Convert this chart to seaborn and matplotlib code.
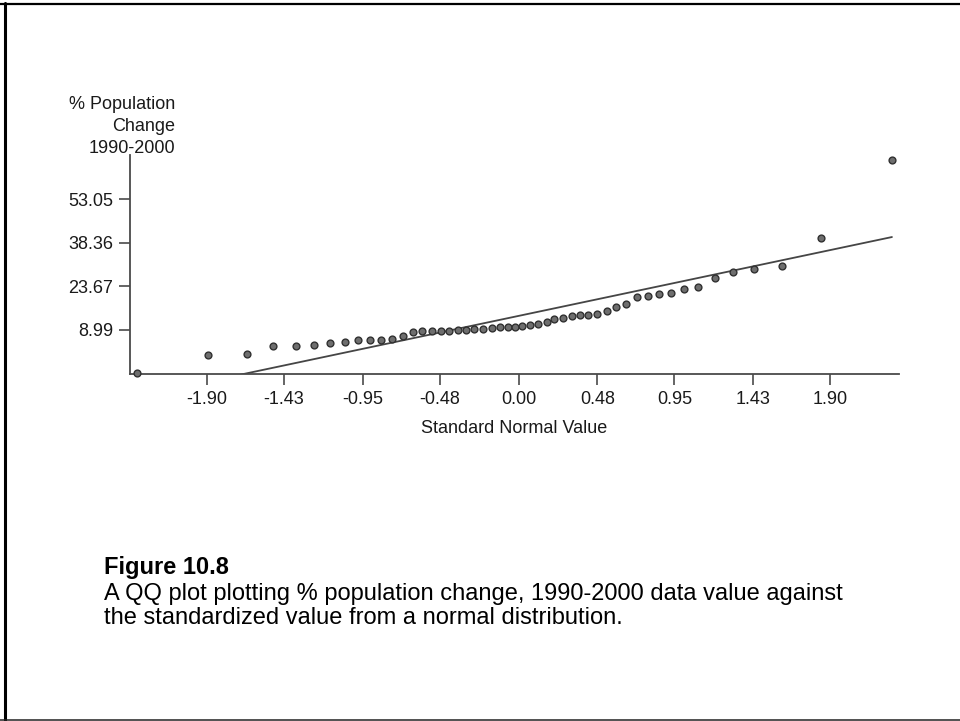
import matplotlib
matplotlib.use("Agg")
import matplotlib.pyplot as plt
from matplotlib.lines import Line2D
import numpy as np
import pandas as pd
import seaborn as sns

# Standard normal scores (x) for the 51 sorted observations
normal_scores = [
    -2.323, -1.889, -1.653, -1.493, -1.357, -1.244, -1.148, -1.057, -0.976, -0.904,
    -0.837, -0.772, -0.705, -0.641, -0.586, -0.527, -0.474, -0.421, -0.370, -0.322,
    -0.269, -0.214, -0.163, -0.113, -0.062, -0.024, 0.023, 0.070, 0.121, 0.172,
    0.218, 0.273, 0.324, 0.375, 0.425, 0.476, 0.537, 0.594, 0.653, 0.720,
    0.787, 0.854, 0.929, 1.008, 1.095, 1.197, 1.308, 1.436, 1.605, 1.840,
    2.275,
]

# % population change 1990-2000, sorted ascending (50 states + DC)
pct_change = [
    -5.7, 0.5, 0.8, 3.4, 3.6, 3.8, 4.5, 4.7, 5.4, 5.5,
    5.5, 5.9, 6.9, 8.2, 8.4, 8.5, 8.5, 8.6, 8.9, 8.9,
    9.3, 9.3, 9.6, 9.7, 9.7, 9.7, 10.1, 10.5, 10.8, 11.4,
    12.4, 12.9, 13.7, 13.8, 14.0, 14.4, 15.1, 16.7, 17.6, 20.1,
    20.4, 21.1, 21.4, 22.8, 23.5, 26.4, 28.5, 29.6, 30.6, 40.0,
    66.3,
]

# Reference line: value = intercept + slope * normal score
ref_intercept = 13.6
ref_slope = 11.7

x_tick_labels = ["-1.90", "-1.43", "-0.95", "-0.48", "0.00", "0.48", "0.95", "1.43", "1.90"]
y_tick_labels = ["8.99", "23.67", "38.36", "53.05"]
y_title_lines = ["% Population", "Change", "1990-2000"]
x_title = "Standard Normal Value"
caption_title = "Figure 10.8"
caption_lines = [
    "A QQ plot plotting % population change, 1990-2000 data value against",
    "the standardized value from a normal distribution.",
]

sns.set_theme(style="ticks")
plt.rcParams["font.family"] = ["Liberation Sans", "DejaVu Sans"]

W, H = 960, 721
fig = plt.figure(figsize=(W / 100, H / 100), dpi=100)
fig.patch.set_facecolor("white")

ax = fig.add_axes([130 / W, 1 - 374 / H, (899 - 130) / W, (374 - 155) / H])

df = pd.DataFrame({"z": normal_scores, "pct": pct_change})
sns.scatterplot(
    data=df, x="z", y="pct", ax=ax, s=24, color="#6e6e6e",
    edgecolor="#303030", linewidth=1.0, clip_on=False, zorder=3, legend=False,
)

line_x = np.array([normal_scores[0], normal_scores[-1]])
line_df = pd.DataFrame({"z": line_x, "pct": ref_intercept + ref_slope * line_x})
sns.lineplot(data=line_df, x="z", y="pct", ax=ax, color="#454545",
             linewidth=1.3, estimator=None, sort=False, zorder=2)

ax.set_xlim(-2.367, 2.318)
ax.set_ylim(-6.0, 67.9)
ax.set_xticks([float(s) for s in x_tick_labels], labels=x_tick_labels)
ax.set_yticks([float(s) for s in y_tick_labels], labels=y_tick_labels)

for side in ("top", "right"):
    ax.spines[side].set_visible(False)
for side in ("left", "bottom"):
    ax.spines[side].set_color("#4a4a4a")
    ax.spines[side].set_linewidth(1.3)

ax.tick_params(axis="both", direction="out", length=8, width=1.2,
               color="#4a4a4a", labelsize=13, labelcolor="#1a1a1a", pad=4)
ax.set_xlabel(x_title, fontsize=13, color="#1a1a1a", labelpad=9)
ax.set_ylabel("")

# Stacked y-axis title, right aligned above the axis
for base_y, txt in zip([109, 131, 153], y_title_lines):
    fig.text(175 / W, 1 - base_y / H, txt, ha="right", va="baseline",
             fontsize=13, color="#1a1a1a")

# Caption
fig.text(104 / W, 1 - 574 / H, caption_title, ha="left", va="baseline",
         fontsize=17, fontweight="bold", color="black")
for base_y, txt in zip([600, 624], caption_lines):
    fig.text(104 / W, 1 - base_y / H, txt, ha="left", va="baseline",
             fontsize=17, color="black")

# Slide frame
fig.add_artist(Line2D([0, 1], [1 - 4 / H, 1 - 4 / H], transform=fig.transFigure,
                      color="black", linewidth=1.6))
fig.add_artist(Line2D([4.5 / W, 4.5 / W], [1 - 3 / H, 1.5 / H], transform=fig.transFigure,
                      color="black", linewidth=2.2))
fig.add_artist(Line2D([0, 1], [1.5 / H, 1.5 / H], transform=fig.transFigure,
                      color="#222222", linewidth=1.1))

fig.savefig("out.png", dpi=100)
